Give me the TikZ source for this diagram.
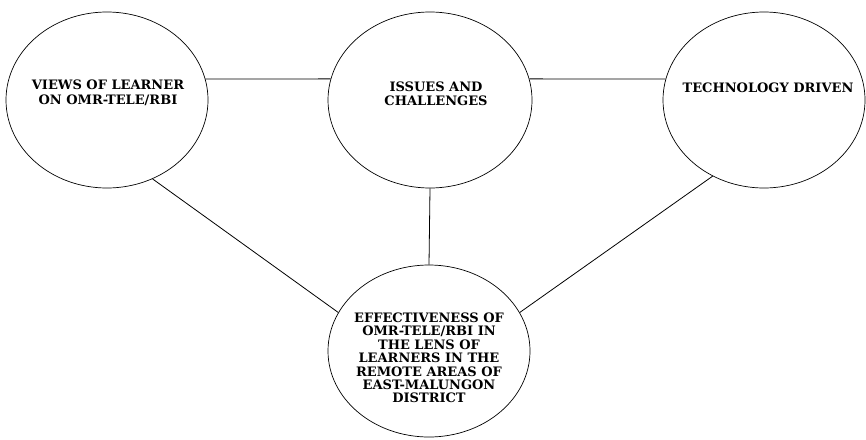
\documentclass[tikz,border=0pt]{standalone}
\usepackage{fontspec}
\setmainfont{DejaVu Serif}
\usetikzlibrary{shapes.geometric}

\begin{document}
\begin{tikzpicture}[x=1pt,y=-1pt,
  bubble/.style={draw,ellipse,line width=0.7pt,inner sep=0pt,
    minimum width=202pt,minimum height=176pt},
  caption/.style={align=center,inner sep=0pt,
    font=\fontsize{13}{14.5}\selectfont\bfseries},
  link/.style={line width=0.8pt}]
\useasboundingbox (0,0) rectangle (866,439);

\node[bubble] (views) at (107,100) {};
\node[bubble,minimum width=204pt] (issues) at (430,100) {};
\node[bubble] (techno) at (764,100) {};
\node[bubble,minimum height=172pt] (effect) at (429,351) {};

\node[caption] (viewsT) at (108,93) {VIEWS OF LEARNER\\ON OMR-TELE/RBI};
\node[caption] (issuesT) at (436,94) {ISSUES AND\\CHALLENGES};
\node[caption] (technoT) at (768,88) {TECHNOLOGY DRIVEN};
\node[caption,font=\fontsize{13}{13.4}\selectfont\bfseries] (effectT) at (429,358)
  {EFFECTIVENESS OF\\OMR-TELE/RBI IN\\THE LENS OF\\LEARNERS IN THE\\REMOTE AREAS OF\\EAST-MALUNGON\\DISTRICT};

\draw[link] (views.12) -- (issues.168);
\draw[link] (issues.12) -- (techno.168);
\draw[link] (issues.south) -- (effect.north);
\draw[link] (views.-60) -- (effect.157);
\draw[link] (techno.236) -- (effect.23);

\end{tikzpicture}
\end{document}
